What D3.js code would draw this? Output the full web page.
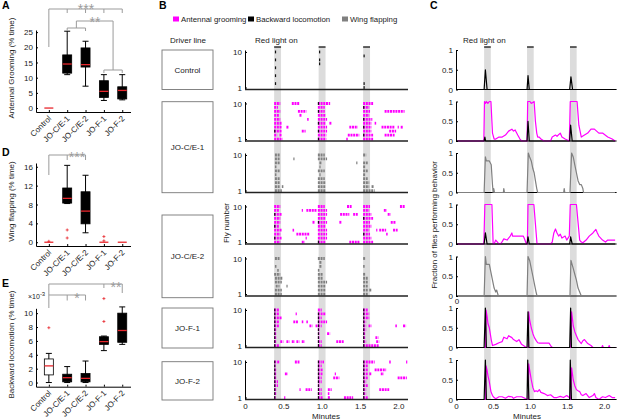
<!DOCTYPE html>
<html>
<head>
<meta charset="utf-8">
<script src="https://cdn.jsdelivr.net/npm/d3@7"></script>
<style>
  body { margin: 0; background: #fff; }
  svg { display: block; font-family: "Liberation Sans", Arial, sans-serif; }
</style>
</head>
<body>
<svg id="figure" width="617" height="419"></svg>
<script>
// ---------- data ----------
const driverLines = ["Control", "JO-C/E-1", "JO-C/E-2", "JO-F-1", "JO-F-2"];

// box stats: [lower whisker, q1, median, q3, upper whisker]
const groomStats = [[0, 0, 0, 0, 0], [11, 11.5, 14.5, 17.5, 25.3], [7.2, 13.5, 14.3, 19.8, 22], [2.5, 3.5, 5.5, 9, 11], [2.7, 3, 5.8, 7, 11]];
const groomOutliers = [[], [], [], [], []];
const groomTicks = [0, 5, 10, 15, 20, 25];

const flapStats = [[0, 0, 0, 0, 0], [8.2, 8.3, 9.3, 11.5, 16.3], [2, 3.9, 6.6, 10.7, 14.2], [0, 0, 0, 0, 0], [0, 0, 0, 0, 0]];
const flapOutliers = [[0.2], [2.6, 0.9], [], [1.2, 0.3], []];
const flapTicks = [0, 4, 8, 12, 16];

// backward locomotion, x10^-3
const backStats = [[0, 1.1, 2.4, 3.4, 4.2], [0, 0.1, 0.7, 1.2, 2.3], [0, 0.1, 0.6, 1.3, 3.1], [4.6, 5.5, 5.9, 6.6, 6.7], [5.5, 5.8, 7.5, 10, 10.9]];
const backOutliers = [[7.9], [], [], [8.8, 12.1], []];
const backTicks = [0, 2, 4, 6, 8, 10];

// red light windows (minutes)
const lightOn = [[0.38, 0.47], [0.96, 1.05], [1.54, 1.63]];
const minuteTicks = [0, 0.5, 1, 1.5, 2];
const flyTicks = [1, 10];
const fracTicks = [0, 0.5, 1];

// raster events per fly (index 0 = fly 1): [start, end] in minutes
const groomCE1 = [
  [[0.38, 0.49], [0.95, 1.06], [1.32, 1.34], [1.54, 1.67]],
  [[0.38, 0.42], [0.45, 0.48], [0.95, 1.06], [1.34, 1.49], [1.54, 1.67], [1.82, 1.95]],
  [[0.38, 0.48], [0.74, 0.79], [0.95, 1.07], [1.54, 1.65], [1.88, 1.97]],
  [[0.38, 0.48], [0.54, 0.57], [0.95, 1.07], [1.36, 1.47], [1.54, 1.65], [1.78, 1.95], [1.99, 2.0], [2.03, 2.06]],
  [[0.38, 0.48], [0.95, 1.05], [1.1, 1.13], [1.54, 1.65], [1.69, 1.71]],
  [[0.38, 0.46], [0.81, 0.83], [0.95, 1.07], [1.54, 1.66]],
  [[0.38, 0.45], [0.71, 0.74], [0.95, 1.05], [1.54, 1.62]],
  [[0.38, 0.46], [0.69, 0.8], [0.95, 1.04], [1.54, 1.63], [1.82, 2.08]],
  [[0.38, 0.43], [0.95, 1.04], [1.54, 1.62]],
  [[0.38, 0.46], [0.61, 0.71], [0.95, 1.11], [1.54, 1.67]],
];
const flapCE1 = [
  [[0.39, 0.48], [0.95, 1.05], [1.54, 1.69]],
  [[0.39, 0.46], [0.48, 0.5], [0.95, 1.05], [1.54, 1.62], [1.65, 1.68]],
  [[0.39, 0.46], [0.95, 1.05], [1.54, 1.62]],
  [[0.39, 0.46], [0.95, 1.04], [1.54, 1.6]],
  [[0.39, 0.41], [0.97, 0.98], [1.54, 1.57]],
  [[0.39, 0.46], [0.95, 1.04], [1.54, 1.6]],
  [[0.39, 0.41], [0.97, 0.98], [1.54, 1.57]],
  [[0.39, 0.46], [0.97, 1.0], [1.45, 1.455], [1.54, 1.6]],
  [[0.39, 0.46], [0.63, 0.635], [0.95, 1.07]],
  [[0.39, 0.46], [0.95, 1.04], [1.54, 1.58]],
];
const groomCE2 = [
  [[0.38, 0.46], [0.74, 0.78], [0.95, 1.05], [1.36, 1.5], [1.54, 1.67]],
  [[0.38, 0.48], [0.79, 0.8], [0.95, 1.07], [1.54, 1.65]],
  [[0.38, 0.46], [0.67, 0.84], [0.95, 1.07], [1.54, 1.63], [1.84, 1.86]],
  [[0.38, 0.48], [0.62, 0.64], [0.95, 1.07], [1.54, 1.62], [1.71, 1.72], [1.75, 1.84], [1.93, 1.99]],
  [[0.38, 0.45], [0.95, 1.05], [1.54, 1.65]],
  [[0.38, 0.46], [0.88, 0.91], [0.95, 1.07], [1.23, 1.26], [1.54, 1.63], [1.9, 1.97]],
  [[0.38, 0.46], [0.95, 1.05], [1.54, 1.67]],
  [[0.38, 0.48], [0.95, 1.07], [1.24, 1.36], [1.41, 1.47], [1.54, 1.65], [1.86, 1.9]],
  [[0.38, 0.45], [0.74, 0.75], [0.8, 0.94], [0.95, 1.07], [1.54, 1.62], [1.81, 1.85]],
  [[0.38, 0.46], [0.95, 1.04], [1.33, 1.39], [1.54, 1.63], [2.02, 2.09]],
];
const flapCE2 = [
  [[0.39, 0.48], [0.95, 1.05], [1.54, 1.6]],
  [[0.39, 0.48], [0.95, 1.05], [1.54, 1.6], [1.62, 1.65]],
  [[0.4, 0.45], [0.54, 0.55], [0.95, 1.05], [1.54, 1.6]],
  [[0.39, 0.48], [0.95, 1.07], [1.54, 1.6]],
  [[0.39, 0.49], [0.95, 1.02], [1.54, 1.6]],
  [[0.38, 0.46], [0.95, 1.02], [1.54, 1.57]],
  [[0.42, 0.44], [0.95, 0.97]],
  [[0.39, 0.41], [0.97, 1.0], [1.54, 1.56]],
  [[0.97, 1.0]],
  [[0.39, 0.45], [0.95, 1.04], [1.54, 1.57]],
];
const groomF1 = [
  [[0.38, 0.45], [0.95, 1.0], [1.54, 1.75]],
  [[0.38, 0.41], [0.46, 0.5], [0.54, 0.58], [0.61, 0.65], [0.67, 0.71], [0.74, 0.78], [0.95, 1.0], [1.19, 1.29], [1.54, 1.58], [1.71, 1.75]],
  [[0.38, 0.41], [0.95, 0.97], [1.54, 1.57], [1.7, 1.74]],
  [[0.38, 0.41], [0.95, 0.97], [1.07, 1.11], [1.54, 1.57]],
  [[0.38, 0.41], [0.95, 0.97], [1.54, 1.58]],
  [[0.38, 0.45], [0.84, 0.88], [0.92, 1.0], [1.54, 1.58], [1.61, 1.65], [1.96, 1.98], [2.06, 2.1]],
  [[0.38, 0.45], [0.63, 0.69], [0.74, 0.76], [0.8, 0.82], [0.95, 1.07], [1.54, 1.58]],
  [[0.38, 0.48], [0.95, 1.0], [1.54, 1.62]],
  [[0.38, 0.45], [0.66, 0.67], [0.95, 1.05], [1.54, 1.62]],
  [[0.38, 0.45], [0.95, 1.0], [1.54, 1.6]],
];
const groomF2 = [
  [[0.38, 0.4], [0.51, 0.52], [0.95, 1.02], [1.08, 1.11], [1.29, 1.41], [1.54, 1.6]],
  [[0.38, 0.41], [0.95, 1.0], [1.08, 1.1], [1.54, 1.58]],
  [[0.38, 0.41], [0.71, 0.715], [0.79, 0.87], [0.95, 1.0], [1.08, 1.13], [1.54, 1.58], [1.75, 1.88]],
  [[0.38, 0.43], [0.95, 0.97], [1.54, 1.6]],
  [[0.38, 0.43], [0.95, 1.0], [1.54, 1.58]],
  [[0.38, 0.41], [0.95, 1.0], [1.15, 1.23], [1.54, 1.6], [1.99, 2.11]],
  [[0.38, 0.41], [0.52, 0.56], [0.95, 1.01], [1.17, 1.18], [1.54, 1.6], [1.62, 1.65], [1.77, 1.81]],
  [[0.38, 0.41], [0.95, 1.02], [1.54, 1.6], [1.69, 1.84]],
  [[0.38, 0.4], [0.95, 1.0], [1.54, 1.6]],
  [[0.38, 0.41], [0.42, 0.45], [0.65, 0.71], [0.95, 1.0], [1.01, 1.03], [1.54, 1.69], [1.88, 1.9], [2.1, 2.11]],
];

// backward locomotion frames: [fly, minute]
const ctrlBack = [[10, 0.39], [8, 0.39], [6, 0.39], [4, 0.39], [2, 0.39], [10, 0.965], [8, 0.965], [7, 0.965], [9, 1.545], [2, 1.545], [1, 1.545]];
const backCE1 = [[3, 0.38], [1, 0.95], [3, 0.95], [5, 0.95], [8, 0.95], [10, 0.95], [2, 1.54], [4, 1.54], [6, 1.54], [9, 1.54]];
const backCE2 = [[2, 0.38], [5, 0.38], [8, 0.38], [1, 0.95], [6, 0.95], [3, 1.54], [7, 1.54]];
const backF1 = [
  [1, 0.38], [2, 0.38], [3, 0.38], [4, 0.38], [5, 0.38], [6, 0.38], [7, 0.38], [8, 0.38], [9, 0.38], [10, 0.38],
  [1, 0.95], [2, 0.95], [3, 0.95], [4, 0.95], [5, 0.95], [6, 0.95], [7, 0.95], [8, 0.95], [9, 0.95],
  [1, 1.54], [2, 1.54], [3, 1.54], [4, 1.54], [5, 1.54], [6, 1.54], [7, 1.54], [8, 1.54], [9, 1.54], [10, 1.54],
];
const backF2 = [
  [1, 0.38], [2, 0.38], [3, 0.38], [4, 0.38], [5, 0.38], [6, 0.38], [7, 0.38], [8, 0.38], [9, 0.38], [10, 0.38],
  [1, 0.95], [2, 0.95], [3, 0.95], [4, 0.95], [5, 0.95], [6, 0.95], [7, 0.95], [8, 0.95], [9, 0.95], [10, 0.95],
  [1, 1.54], [2, 1.54], [3, 1.54], [4, 1.54], [5, 1.54], [6, 1.54], [7, 1.54], [8, 1.54], [9, 1.54], [10, 1.54],
];

// fraction of flies performing behaviour: [minute, fraction]
const ctrlBackFrac = [[0, 0], [0.38, 0], [0.397, 0.5], [0.42, 0], [0.96, 0], [0.973, 0.35], [0.99, 0], [1.536, 0], [1.553, 0.32], [1.575, 0], [2.15, 0]];
const groomFracCE1 = [[0, 0], [0.376, 0], [0.385, 1], [0.397, 0.95], [0.41, 1], [0.43, 0.95], [0.45, 1], [0.472, 1], [0.485, 0.5], [0.493, 0.2], [0.515, 0.05], [0.537, 0.05], [0.581, 0.1], [0.624, 0.1], [0.668, 0.15], [0.711, 0.25], [0.755, 0.3], [0.777, 0.25], [0.799, 0.28], [0.834, 0.15], [0.864, 0.05], [0.886, 0], [0.96, 0], [0.969, 1], [1.0, 1], [1.017, 0.95], [1.056, 1], [1.073, 0.5], [1.091, 0.2], [1.104, 0.1], [1.126, 0.1], [1.147, 0.05], [1.191, 0], [1.278, 0], [1.3, 0.1], [1.344, 0.15], [1.365, 0.12], [1.409, 0.2], [1.431, 0.1], [1.475, 0.05], [1.531, 0], [1.544, 1], [1.636, 1], [1.66, 0.4], [1.693, 0.1], [1.736, 0.15], [1.78, 0.2], [1.824, 0.3], [1.87, 0.3], [1.93, 0.2], [1.98, 0.2], [2.05, 0.1], [2.11, 0.05], [2.15, 0]];
const backFracCE1 = [[0, 0], [0.38, 0], [0.39, 0.1], [0.4, 0], [0.96, 0], [0.973, 0.5], [0.99, 0], [1.536, 0], [1.549, 0.4], [1.57, 0], [2.15, 0]];
const flapFracCE1 = [[0, 0], [0.38, 0], [0.397, 0.9], [0.41, 0.8], [0.45, 0.8], [0.476, 0.7], [0.493, 0.2], [0.502, 0], [0.51, 0.1], [0.52, 0], [0.64, 0], [0.646, 0.1], [0.655, 0], [0.96, 0], [0.977, 1], [0.995, 0.9], [1.017, 0.8], [1.039, 0.6], [1.056, 0.5], [1.073, 0.3], [1.091, 0.1], [1.104, 0], [1.455, 0], [1.462, 0.1], [1.47, 0], [1.54, 0], [1.562, 1], [1.584, 0.9], [1.605, 0.7], [1.627, 0.5], [1.649, 0.3], [1.671, 0.2], [1.693, 0.2], [1.714, 0.1], [1.723, 0], [2.15, 0]];
const groomFracCE2 = [[0, 0], [0.376, 0], [0.39, 1], [0.485, 1], [0.502, 0], [0.515, 0], [0.537, 0.1], [0.56, 0.05], [0.581, 0], [0.602, 0], [0.624, 0.06], [0.646, 0.13], [0.69, 0.1], [0.733, 0.2], [0.755, 0.28], [0.764, 0.2], [0.8, 0.2], [0.864, 0.2], [0.908, 0.2], [0.921, 0.15], [0.951, 0], [0.964, 0], [0.973, 1], [1.052, 1], [1.095, 0], [1.278, 0], [1.3, 0.05], [1.322, 0.28], [1.344, 0.38], [1.365, 0.28], [1.387, 0.2], [1.409, 0.25], [1.431, 0.15], [1.475, 0.2], [1.496, 0.1], [1.531, 0.2], [1.544, 1], [1.627, 1], [1.671, 0.1], [1.693, 0.05], [1.714, 0.03], [1.758, 0.1], [1.8, 0.2], [1.85, 0.28], [1.89, 0.37], [1.91, 0.28], [1.93, 0.2], [1.98, 0.1], [2.02, 0.05], [2.05, 0.1], [2.15, 0.1]];
const backFracCE2 = [[0, 0], [0.38, 0], [0.397, 0.28], [0.42, 0], [0.96, 0], [0.973, 0.18], [0.99, 0], [1.536, 0], [1.549, 0.18], [1.57, 0], [2.15, 0]];
const flapFracCE2 = [[0, 0], [0.38, 0], [0.397, 1], [0.41, 0.8], [0.45, 0.8], [0.472, 0.6], [0.493, 0.4], [0.515, 0.2], [0.537, 0.1], [0.55, 0.15], [0.572, 0], [0.96, 0], [0.973, 1], [0.995, 0.9], [1.017, 0.7], [1.039, 0.5], [1.06, 0.3], [1.082, 0.1], [1.095, 0], [1.54, 0], [1.553, 0.9], [1.584, 0.7], [1.605, 0.55], [1.627, 0.4], [1.649, 0.2], [1.66, 0.15], [1.671, 0.1], [1.693, 0], [2.15, 0]];
const groomFracF1 = [[0, 0], [0.4, 0], [0.406, 0.95], [0.419, 0.8], [0.432, 0.6], [0.45, 0.5], [0.463, 0.35], [0.476, 0.2], [0.493, 0.05], [0.537, 0.08], [0.581, 0.12], [0.624, 0.15], [0.646, 0.26], [0.69, 0.22], [0.711, 0.3], [0.755, 0.25], [0.777, 0.2], [0.82, 0.15], [0.851, 0.2], [0.886, 0.08], [0.921, 0.04], [0.951, 0], [0.977, 0], [0.982, 0.9], [0.995, 0.7], [1.017, 0.5], [1.039, 0.35], [1.06, 0.25], [1.082, 0.18], [1.104, 0.12], [1.126, 0.11], [1.257, 0.11], [1.278, 0.05], [1.3, 0], [1.549, 0], [1.562, 0.9], [1.575, 0.7], [1.584, 0.55], [1.605, 0.4], [1.627, 0.3], [1.649, 0.2], [1.671, 0.15], [1.693, 0.1], [1.714, 0.17], [1.736, 0.2], [1.758, 0.15], [1.78, 0.1], [1.824, 0.05], [1.85, 0], [1.97, 0], [1.98, 0.05], [1.99, 0], [2.06, 0], [2.07, 0.05], [2.08, 0], [2.15, 0]];
const backFracF1 = [[0, 0], [0.38, 0], [0.397, 1], [0.41, 0], [0.96, 0], [0.973, 0.9], [0.985, 0], [1.536, 0], [1.549, 1], [1.56, 0], [2.15, 0]];
const groomFracF2 = [[0, 0], [0.4, 0], [0.406, 0.85], [0.419, 0.75], [0.432, 0.6], [0.45, 0.45], [0.472, 0.2], [0.493, 0.1], [0.515, 0.05], [0.537, 0.02], [0.581, 0.07], [0.624, 0.07], [0.668, 0.03], [0.711, 0.08], [0.755, 0.07], [0.777, 0.03], [0.82, 0.07], [0.886, 0.07], [0.93, 0.03], [0.96, 0], [0.977, 0], [0.982, 0.9], [0.999, 0.7], [1.017, 0.5], [1.039, 0.3], [1.06, 0.2], [1.082, 0.22], [1.104, 0.2], [1.126, 0.25], [1.147, 0.18], [1.191, 0.15], [1.235, 0.1], [1.278, 0.12], [1.322, 0.05], [1.365, 0.05], [1.409, 0.08], [1.453, 0.05], [1.496, 0.1], [1.53, 0.05], [1.549, 0], [1.562, 0.8], [1.584, 0.5], [1.605, 0.35], [1.627, 0.25], [1.649, 0.22], [1.671, 0.2], [1.693, 0.12], [1.714, 0.1], [1.758, 0.15], [1.8, 0.05], [1.85, 0.1], [1.87, 0.15], [1.89, 0.05], [1.93, 0], [1.98, 0.07], [2.02, 0.05], [2.07, 0.1], [2.11, 0.05], [2.15, 0.05]];
const backFracF2 = [[0, 0], [0.38, 0], [0.397, 1], [0.41, 0], [0.96, 0], [0.969, 1], [0.985, 0], [1.536, 0], [1.544, 1], [1.56, 0], [2.15, 0]];

// ---------- drawing ----------
const PINK = "#ff00ff", GREY = "#808080", RED = "#e8262c", BRACKET = "#9b9b9b", TEXT = "#1a1a1a";
const FS = 8;
const svg = d3.select("#figure");

const addText = (g, x, y, str, opts = {}) =>
  g.append("text")
    .attr("x", x).attr("y", y)
    .attr("font-size", opts.size || FS)
    .attr("fill", opts.fill || TEXT)
    .attr("text-anchor", opts.anchor || "start")
    .attr("font-weight", opts.weight || null)
    .attr("transform", opts.rotate ? `rotate(${opts.rotate},${x},${y})` : null)
    .text(str);

const styleAxis = (axisG) => {
  axisG.attr("font-size", FS).attr("font-family", null);
  axisG.selectAll("path, line").attr("stroke", "#000");
  axisG.selectAll("text").attr("fill", TEXT);
};

const bracket = (g, pts) =>
  g.append("path").attr("d", d3.line()(pts))
    .attr("fill", "none").attr("stroke", BRACKET).attr("stroke-width", 1);

const stars = (g, x, y, str) => addText(g, x, y, str, { anchor: "middle", size: 14, fill: BRACKET });

const drawBoxPanel = (opt) => {
  const g = svg.append("g");
  const x = d3.scaleLinear().domain([0.3, 5.45]).range([36, 130.5]);
  const y = d3.scaleLinear().domain(opt.yDomain).range([opt.bottom, opt.top]);

  const yAxis = g.append("g").attr("transform", "translate(36,0)")
    .call(d3.axisLeft(y).tickValues(opt.ticks).tickSize(-2).tickSizeOuter(0).tickPadding(3));
  styleAxis(yAxis);
  const xAxis = g.append("g").attr("transform", `translate(0,${opt.bottom})`)
    .call(d3.axisBottom(x).tickValues(d3.range(1, 6)).tickSize(-2).tickSizeOuter(0).tickFormat(""));
  styleAxis(xAxis);

  driverLines.forEach((name, i) => {
    addText(g, x(i + 1) + 3, opt.bottom + 7, name, { anchor: "end", rotate: -45 });
  });

  opt.stats.forEach(([lo, q1, med, q3, hi], i) => {
    const cx = x(i + 1);
    if (hi > lo) {
      g.append("line").attr("x1", cx).attr("x2", cx).attr("y1", y(lo)).attr("y2", y(hi)).attr("stroke", "#000");
      [lo, hi].forEach((v) =>
        g.append("line").attr("x1", cx - 3).attr("x2", cx + 3).attr("y1", y(v)).attr("y2", y(v)).attr("stroke", "#000"));
      g.append("rect")
        .attr("x", cx - 4.5).attr("width", 9)
        .attr("y", y(q3)).attr("height", y(q1) - y(q3))
        .attr("fill", opt.fill(i)).attr("stroke", "#000").attr("stroke-width", 0.8);
    }
    g.append("line").attr("x1", cx - 4.5).attr("x2", cx + 4.5)
      .attr("y1", y(med)).attr("y2", y(med))
      .attr("stroke", RED).attr("stroke-width", 1.3);
    opt.outliers[i].forEach((v) => {
      g.append("path").attr("d", `M${cx - 1.5},${y(v)}H${cx + 1.5}M${cx},${y(v) - 1.5}V${y(v) + 1.5}`)
        .attr("stroke", RED).attr("stroke-width", 0.8);
    });
  });

  addText(g, 14, (opt.top + opt.bottom) / 2 - 3, opt.label, { anchor: "middle", rotate: -90 });
  return { g, x, y };
};

// Panel A
const A = drawBoxPanel({
  stats: groomStats, outliers: groomOutliers, ticks: groomTicks,
  yDomain: [-1.3, 25.7], top: 30, bottom: 112, fill: () => "#000",
  label: "Antennal Grooming (% time)",
});
const xa = A.x;
bracket(A.g, [[xa(1), 47], [xa(1), 9], [xa(5), 9], [xa(5), 13]]);
[2, 3, 4].forEach((c) => bracket(A.g, [[xa(c), 9], [xa(c), 13]]));
stars(A.g, 86, 13.5, "***");
bracket(A.g, [[xa(2), 31], [xa(2), 28], [xa(3), 28], [xa(3), 31]]);
bracket(A.g, [[(xa(2) + xa(3)) / 2, 28], [(xa(2) + xa(3)) / 2, 21], [(xa(4) + xa(5)) / 2, 21], [(xa(4) + xa(5)) / 2, 70]]);
bracket(A.g, [[xa(4), 73], [xa(4), 70], [xa(5), 70], [xa(5), 73]]);
stars(A.g, 95, 27, "**");

// Panel D
const D = drawBoxPanel({
  stats: flapStats, outliers: flapOutliers, ticks: flapTicks,
  yDomain: [-0.8, 16.8], top: 163, bottom: 246, fill: () => "#000",
  label: "Wing flapping (% time)",
});
const xd = D.x;
bracket(D.g, [[xd(1), 175], [xd(1), 155], [xd(3), 155], [xd(3), 160]]);
bracket(D.g, [[xd(2), 155], [xd(2), 160]]);
stars(D.g, 77, 161.5, "***");

// Panel E
const E = drawBoxPanel({
  stats: backStats, outliers: backOutliers, ticks: backTicks,
  yDomain: [-0.6, 10.7], top: 308.3, bottom: 386.7, fill: (i) => (i === 0 ? "#fff" : "#000"),
  label: "Backward locomotion (% time)",
});
const xe = E.x;
bracket(E.g, [[xe(1), 308], [xe(1), 284], [xe(5), 284], [xe(5), 293]]);
bracket(E.g, [[xe(4), 284], [xe(4), 288]]);
bracket(E.g, [[xe(1), 295], [xe(3), 295], [xe(3), 300.5]]);
bracket(E.g, [[xe(2), 295], [xe(2), 300.5]]);
stars(E.g, 77, 303, "*");
stars(E.g, 116, 292.3, "**");
const expo = addText(E.g, 28, 298.5, "×10", { size: 7 });
expo.append("tspan").attr("dy", -3).attr("font-size", 6).text("-3");

// Panel letters
[["A", 2, 9], ["D", 2, 156], ["E", 2, 287], ["B", 159, 9], ["C", 430, 9]].forEach(([t, x, y]) =>
  addText(svg, x, y, t, { size: 10.5, weight: "bold", fill: "#000" }));

// ---------- B and C shared layout ----------
const xB = d3.scaleLinear().domain([0, 2.125]).range([245, 408]);
const xC = d3.scaleLinear().domain([0, 2.17]).range([456, 616.6]);
const rowTops = [50, 101.5, 153, 204.5, 256.5, 308, 360];
const rowH = 39.5;
const lightTop = 47;
const lightBottom = rowTops[6] + rowH;
const fmtMin = (d) => (d === 0 ? "0" : d3.format(".1f")(d));

// legend
const legendItems = [["Antennal grooming", PINK], ["Backward locomotion", "#000"], ["Wing flapping", GREY]];
const legendX = [173, 248, 342];
legendItems.forEach(([name, color], i) => {
  svg.append("rect").attr("x", legendX[i]).attr("y", 16.5).attr("width", 6).attr("height", 5).attr("fill", color);
  addText(svg, legendX[i] + 8, 21.8, name, { size: 7.8 });
});

addText(svg, 188, 42.5, "Driver line", { anchor: "middle" });
addText(svg, 255, 42.5, "Red light on");
addText(svg, 463, 42.5, "Red light on");

// light-on bars
[xB, xC].forEach((xs) => {
  const lg = svg.append("g");
  lg.selectAll("rect").data(lightOn).join("rect")
    .attr("x", (d) => xs(d[0])).attr("width", (d) => xs(d[1]) - xs(d[0]))
    .attr("y", lightTop).attr("height", lightBottom - lightTop)
    .attr("fill", "#dcdcdc");
  lg.selectAll("line").data(lightOn).join("line")
    .attr("x1", (d) => xs(d[0])).attr("x2", (d) => xs(d[1]))
    .attr("y1", lightTop).attr("y2", lightTop)
    .attr("stroke", "#111").attr("stroke-width", 1.3);
});

// driver line boxes
const boxSpans = [[50, 89.5], [101.7, 192.7], [215, 297.7], [308, 348], [361.7, 400]];
driverLines.forEach((name, i) => {
  const [t, b] = boxSpans[i];
  svg.append("rect").attr("x", 162).attr("y", t).attr("width", 51).attr("height", b - t)
    .attr("fill", "none").attr("stroke", "#777").attr("stroke-width", 0.9);
  addText(svg, 187.5, (t + b) / 2 + 2.8, name, { anchor: "middle" });
});

// ---------- B raster ----------
const rasterRows = [
  { marks: [], color: GREY, back: ctrlBack },
  { marks: groomCE1, color: PINK, back: backCE1 },
  { marks: flapCE1, color: GREY, back: [] },
  { marks: groomCE2, color: PINK, back: backCE2 },
  { marks: flapCE2, color: GREY, back: [] },
  { marks: groomF1, color: PINK, back: backF1 },
  { marks: groomF2, color: PINK, back: backF2 },
];

rasterRows.forEach((row, r) => {
  const top = rowTops[r];
  const base = top + rowH;
  const yFly = d3.scaleLinear().domain([0.5, 10.5]).range([base, top]);
  const g = svg.append("g");
  const segs = row.marks.flatMap((list, i) => list.map(([s, e]) => ({ fly: i + 1, s, e })));
  g.selectAll("line.mark").data(segs).join("line").attr("class", "mark")
    .attr("x1", (d) => xB(d.s))
    .attr("x2", (d) => Math.max(xB(d.e), xB(d.s) + 1.2))
    .attr("y1", (d) => yFly(d.fly)).attr("y2", (d) => yFly(d.fly))
    .attr("stroke", row.color).attr("stroke-width", 2.8)
    .attr("stroke-dasharray", "2,0.7");
  g.selectAll("rect.back").data(row.back).join("rect").attr("class", "back")
    .attr("x", (d) => xB(d[1])).attr("width", 1.2)
    .attr("y", (d) => yFly(d[0]) - 1.4).attr("height", 2.8)
    .attr("fill", "#111");

  const yAxis = g.append("g").attr("transform", `translate(${xB(0)},0)`)
    .call(d3.axisLeft(yFly).tickValues(flyTicks).tickSize(-2).tickSizeOuter(0).tickPadding(3));
  styleAxis(yAxis);
  g.append("line").attr("x1", xB(0)).attr("x2", xB.range()[1])
    .attr("y1", base).attr("y2", base).attr("stroke", "#222").attr("stroke-width", 1.6);
});

const xAxisB = svg.append("g").attr("transform", `translate(0,${lightBottom})`)
  .call(d3.axisBottom(xB).tickValues(minuteTicks).tickSize(0).tickPadding(3.5).tickFormat(fmtMin));
xAxisB.select(".domain").remove();
styleAxis(xAxisB);
addText(svg, 326, 418.5, "Minutes", { anchor: "middle" });
addText(svg, 228.5, 223, "Fly number", { anchor: "middle", rotate: -90 });

// ---------- C fraction traces ----------
const fracRows = [
  [{ data: ctrlBackFrac, color: "#000" }],
  [{ data: groomFracCE1, color: PINK }, { data: backFracCE1, color: "#000" }],
  [{ data: flapFracCE1, color: GREY }],
  [{ data: groomFracCE2, color: PINK }, { data: backFracCE2, color: "#000" }],
  [{ data: flapFracCE2, color: GREY }],
  [{ data: groomFracF1, color: PINK }, { data: backFracF1, color: "#000" }],
  [{ data: groomFracF2, color: PINK }, { data: backFracF2, color: "#000" }],
];

fracRows.forEach((series, r) => {
  const top = rowTops[r];
  const base = top + rowH;
  const yFrac = d3.scaleLinear().domain([0, 1]).range([base, top]);
  const g = svg.append("g");
  g.append("line").attr("x1", xC(0)).attr("x2", xC.range()[1])
    .attr("y1", base).attr("y2", base).attr("stroke", "#000").attr("stroke-width", 1.2);
  const line = d3.line().x((d) => xC(d[0])).y((d) => yFrac(d[1]));
  series.forEach((s) => {
    g.append("path").datum(s.data).attr("d", line)
      .attr("fill", "none").attr("stroke", s.color).attr("stroke-width", 1.2)
      .attr("stroke-linejoin", "round");
  });
  const yAxis = g.append("g").attr("transform", `translate(${xC(0)},0)`)
    .call(d3.axisLeft(yFrac).tickValues(fracTicks).tickSize(-2).tickSizeOuter(0).tickPadding(3)
      .tickFormat((d) => (d === 0.5 ? "0.5" : d3.format("d")(d))));
  styleAxis(yAxis);
});
addText(svg, xC(0) + 1, 304, "0", { anchor: "middle" });

const xAxisC = svg.append("g").attr("transform", `translate(0,${lightBottom})`)
  .call(d3.axisBottom(xC).tickValues(minuteTicks).tickSize(0).tickPadding(3.5).tickFormat(fmtMin));
xAxisC.select(".domain").remove();
styleAxis(xAxisC);
addText(svg, 527, 418.5, "Minutes", { anchor: "middle" });
addText(svg, 437, 225, "Fraction of flies performing behavior", { anchor: "middle", rotate: -90 });
</script>
</body>
</html>
